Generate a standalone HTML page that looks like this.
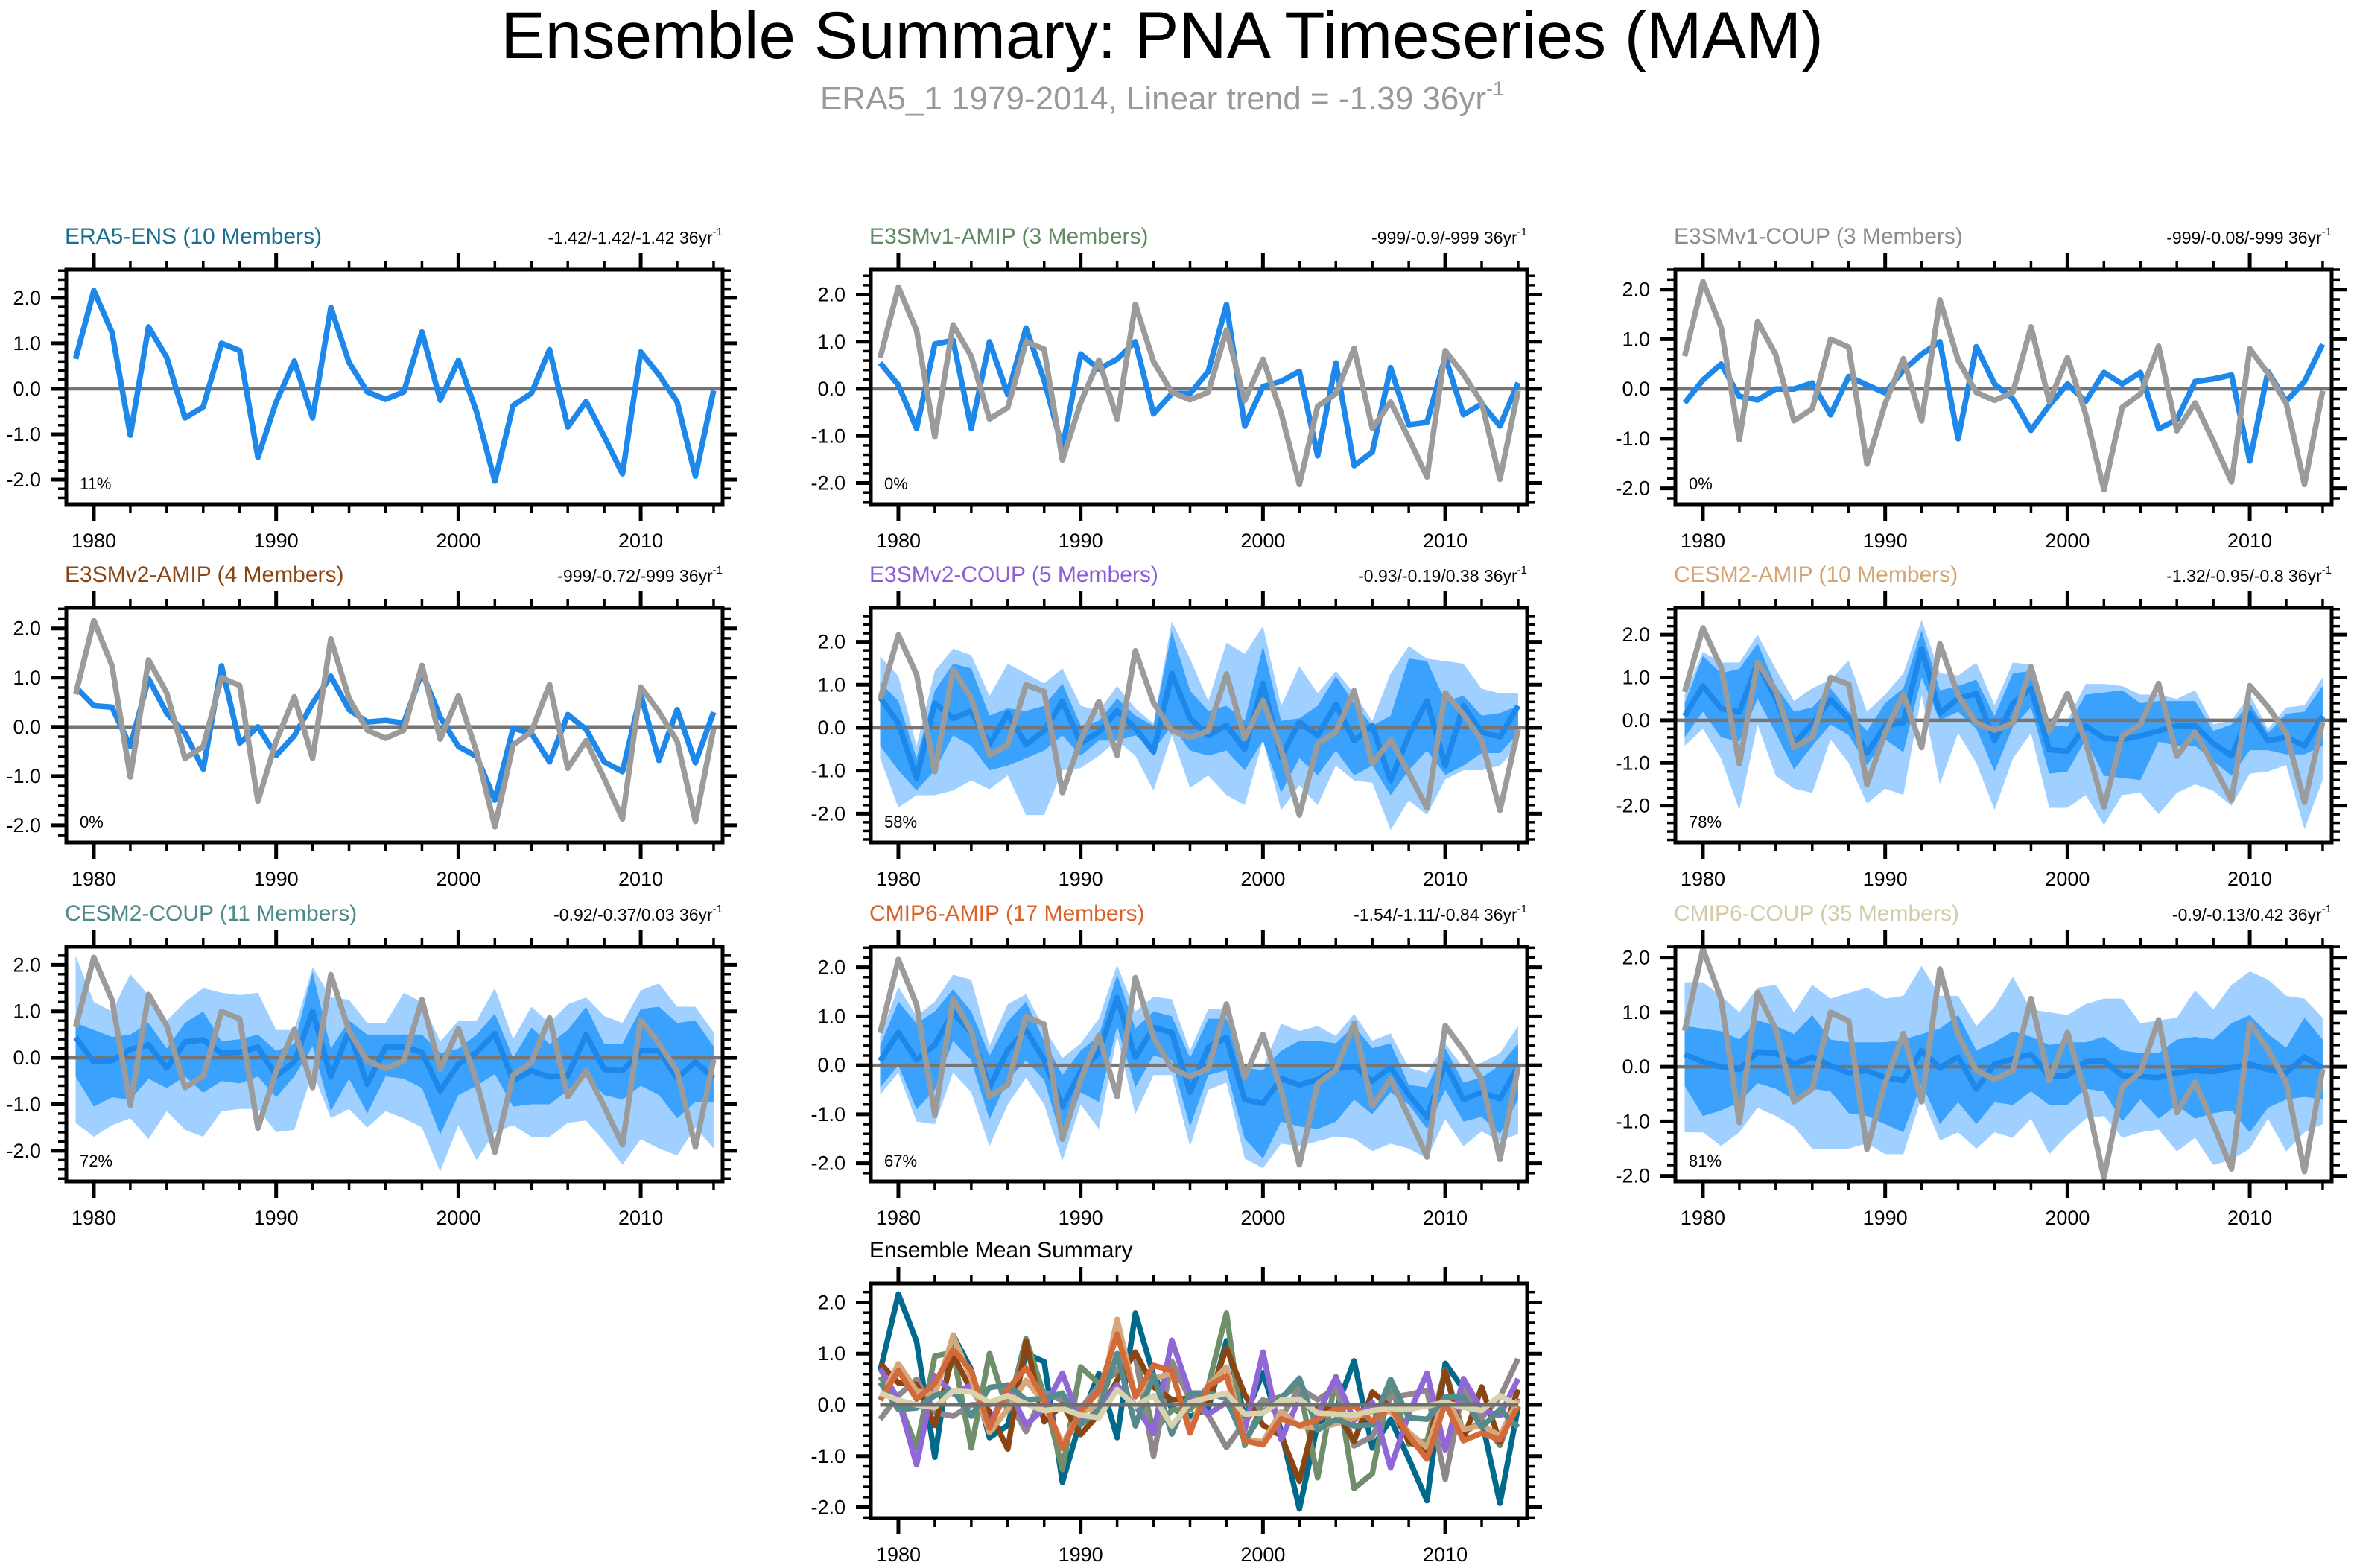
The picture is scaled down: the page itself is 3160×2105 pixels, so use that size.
<!DOCTYPE html>
<html><head><meta charset="utf-8"><title>Ensemble Summary: PNA Timeseries (MAM)</title>
<style>html,body{margin:0;padding:0;background:#fff}svg{display:block;font-family:"Liberation Sans",sans-serif}</style>
</head><body>
<svg id="chart" width="3160" height="2105" viewBox="0 0 3160 2105" xmlns="http://www.w3.org/2000/svg">
<rect width="3160" height="2105" fill="#fff"/>
<text x="1560" y="78" font-size="89" text-anchor="middle" fill="#000">Ensemble Summary: PNA Timeseries (MAM)</text>
<text x="1560" y="147" font-size="44" text-anchor="middle" fill="#999">ERA5_1 1979-2014, Linear trend = -1.39 36yr<tspan font-size="27" dy="-19">-1</tspan></text>
</svg>
<script>
const years = [1979,1980,1981,1982,1983,1984,1985,1986,1987,1988,1989,1990,1991,1992,1993,1994,1995,1996,1997,1998,1999,2000,2001,2002,2003,2004,2005,2006,2007,2008,2009,2010,2011,2012,2013,2014];
const xTickLabels = [1980,1990,2000,2010];
const yTickLabels = ["2.0","1.0","0.0","-1.0","-2.0"];
const yTickValues = [2,1,0,-1,-2];

const obsERA5 = [0.66,2.16,1.24,-1.02,1.36,0.69,-0.64,-0.40,1.0,0.84,-1.51,-0.29,0.61,-0.64,1.79,0.58,-0.07,-0.23,-0.07,1.25,-0.25,0.63,-0.51,-2.03,-0.37,-0.1,0.86,-0.84,-0.28,-1.05,-1.87,0.81,0.31,-0.29,-1.92,-0.04];
const meanE3v1A = [0.55,0.08,-0.84,0.95,1.03,-0.84,1.0,-0.12,1.29,0.18,-1.26,0.74,0.42,0.63,1.0,-0.53,-0.1,-0.1,0.37,1.79,-0.79,0.05,0.16,0.37,-1.42,0.55,-1.63,-1.34,0.45,-0.76,-0.71,0.68,-0.55,-0.32,-0.79,0.13];
const meanE3v1C = [-0.28,0.18,0.5,-0.15,-0.22,0.0,0.0,0.12,-0.52,0.25,0.08,-0.08,0.38,0.7,0.95,-1.0,0.85,0.1,-0.2,-0.83,-0.33,0.1,-0.25,0.33,0.1,0.33,-0.8,-0.62,0.15,0.2,0.28,-1.45,0.35,-0.25,0.15,0.9];
const meanE3v2A = [0.81,0.43,0.4,-0.4,0.98,0.28,-0.13,-0.86,1.24,-0.33,0.0,-0.58,-0.18,0.48,1.03,0.35,0.1,0.13,0.08,1.11,0.2,-0.4,-0.6,-1.49,-0.03,-0.13,-0.71,0.25,-0.05,-0.71,-0.91,0.66,-0.68,0.35,-0.73,0.3];

const meanE3v2C = [0.71,0.1,-1.17,0.57,0.22,0.39,-0.39,0.34,-0.39,-0.07,0.62,-0.36,-0.1,0.39,-0.01,-0.56,1.26,0.22,-0.18,0.05,-0.5,1.03,-0.68,0.13,-0.18,0.54,-0.3,0.05,-1.23,-0.18,0.62,-0.88,0.51,-0.1,-0.21,0.51];
const e3v2cOuterHi = [1.66,1.2,-0.42,1.32,1.84,1.69,0.74,1.49,1.26,1.03,1.38,0.51,0.39,0.97,0.45,0.1,2.47,1.61,0.62,1.98,1.72,2.36,0.51,1.43,0.8,1.32,0.8,0.16,1.26,1.9,1.61,1.55,1.49,0.91,0.8,0.8];
const e3v2cInnerHi = [1.06,0.62,-0.71,0.86,1.49,1.38,0.28,0.45,0.39,0.51,1.03,0.05,0.16,0.68,0.28,0.05,2.24,0.86,0.39,0.51,0.16,1.9,0.16,0.22,0.51,1.2,0.57,0.05,0.28,1.61,1.55,0.62,0.74,0.28,0.34,0.51];
const e3v2cInnerLo = [-0.42,-0.99,-1.46,-0.99,-0.18,-0.42,-0.99,-0.88,-0.71,-0.53,-0.18,-0.65,-0.3,-0.3,-0.18,-0.53,0.05,-0.53,-0.65,-0.53,-0.99,-0.3,-1.51,-0.71,-1.11,-0.53,-1.11,-0.88,-1.57,-0.99,-0.53,-1.1,-0.88,-0.59,-0.59,-0.13];
const e3v2cOuterLo = [-0.71,-1.86,-1.57,-1.57,-1.46,-1.23,-1.43,-1.11,-2.03,-2.03,-0.99,-0.94,-0.65,-0.3,-0.65,-1.46,-0.18,-1.4,-1.11,-1.57,-1.8,-0.3,-1.92,-1.34,-1.8,-0.88,-1.23,-1.28,-2.38,-1.69,-2.03,-1.2,-0.99,-0.99,-0.88,-0.42];

const meanC2A = [0.1,0.8,0.27,0.19,1.35,0.51,-0.54,-0.08,0.48,0.04,-0.77,-0.13,-0.05,1.67,0.16,0.51,0.62,-0.48,0.39,0.74,-0.69,-0.72,-0.13,-0.42,-0.45,-0.37,-0.25,-0.13,-0.13,-0.54,-0.83,0.16,-0.48,-0.4,-0.6,0.1];
const c2aOuterHi = [0.6,1.6,1.35,1.35,2.0,1.2,0.45,0.75,0.95,1.4,0.2,0.6,1.1,2.35,1.1,1.05,1.35,0.35,1.35,1.3,-0.05,0.0,0.85,0.85,0.8,0.6,0.6,0.5,0.7,-0.1,0.0,0.6,-0.2,0.3,0.35,1.0];
const c2aInnerHi = [0.4,1.5,1.1,1.2,1.8,0.8,0.2,0.3,0.75,0.2,-0.25,0.4,0.75,2.1,0.7,0.8,0.95,0.1,1.1,1.15,-0.1,-0.15,0.6,0.65,0.7,0.4,0.45,0.45,0.45,-0.25,-0.1,0.4,-0.3,0.15,0.2,0.8];
const c2aInnerLo = [-0.4,0.2,-0.4,-0.5,0.5,-0.3,-1.15,-0.6,-0.1,-0.35,-1.05,-0.45,-0.75,1.0,0.0,0.2,-0.2,-1.2,-0.15,0.3,-1.25,-1.2,-0.45,-1.3,-1.35,-1.4,-0.5,-0.6,-0.6,-0.95,-1.3,-0.7,-0.7,-0.8,-0.8,-0.6];
const c2aOuterLo = [-0.6,-0.2,-0.9,-2.1,-0.1,-1.3,-1.6,-1.7,-0.45,-1.0,-1.95,-1.6,-1.75,0.6,-1.5,-0.3,-1.0,-2.1,-0.9,-0.3,-2.05,-2.05,-1.75,-2.45,-1.75,-1.7,-2.2,-1.7,-1.5,-1.65,-2.0,-1.25,-1.2,-1.05,-2.55,-1.4];

const meanC2C = [0.44,-0.09,-0.06,0.18,0.28,-0.22,0.34,0.39,0.1,0.12,0.23,-0.39,-0.09,1.0,-0.41,0.58,-0.57,0.23,0.23,0.12,-0.71,-0.14,0.12,0.52,-0.49,-0.28,-0.41,-0.39,0.5,-0.25,-0.28,0.15,0.15,-0.44,-0.09,-0.44];
const c2cOuterHi = [2.2,1.2,1.0,1.8,1.35,0.8,1.2,1.5,1.4,1.35,1.4,0.6,0.6,1.95,1.3,1.25,0.75,0.75,1.4,1.2,0.35,0.8,0.8,1.5,0.4,1.1,0.75,1.15,1.3,0.9,0.75,1.45,1.6,1.1,1.1,0.55];
const c2cInnerHi = [0.75,0.6,0.45,0.5,0.75,0.2,0.75,1.0,0.35,0.4,0.5,0.15,0.3,1.85,0.2,0.8,0.5,0.5,0.5,0.5,0.1,0.2,0.5,0.95,0.0,0.65,0.3,0.6,1.1,0.3,0.3,1.05,1.1,0.75,0.8,0.25];
const c2cInnerLo = [-0.4,-1.05,-0.85,-0.9,-0.45,-0.65,-0.4,-0.75,-0.5,-0.55,-0.4,-0.85,-0.4,0.25,-1.15,-0.45,-1.2,-0.4,-0.45,-0.65,-1.65,-0.8,-0.6,-0.35,-1.05,-1.0,-1.0,-0.7,-0.4,-0.8,-0.9,-0.6,-0.8,-1.3,-0.95,-0.95];
const c2cOuterLo = [-1.4,-1.7,-1.45,-1.3,-1.75,-1.15,-1.55,-1.7,-1.15,-1.1,-1.1,-1.6,-1.55,-0.3,-1.3,-1.1,-1.5,-1.15,-1.3,-1.5,-2.45,-1.45,-2.2,-1.6,-1.45,-1.7,-1.7,-1.4,-1.35,-1.8,-2.3,-1.75,-1.95,-2.1,-1.5,-1.95];

const meanC6A = [0.09,0.67,0.11,0.42,1.08,0.67,-0.45,0.31,0.72,0.11,-0.85,-0.12,0.26,1.38,0.16,0.77,0.67,-0.55,0.37,0.57,-0.7,-0.78,-0.27,-0.4,-0.29,-0.07,-0.02,-0.32,-0.04,-0.6,-1.06,0.04,-0.7,-0.55,-0.68,-0.02];
const c6aOuterHi = [0.6,1.6,1.0,1.3,1.85,1.75,0.4,1.25,1.45,0.75,0.15,0.45,0.95,2.05,1.1,1.4,1.35,0.3,1.15,1.15,0.0,-0.05,0.85,0.7,0.8,0.6,1.05,0.5,0.65,-0.05,-0.15,0.45,-0.05,0.05,0.25,0.8];
const c6aInnerHi = [0.4,1.3,0.85,1.1,1.55,1.1,0.2,0.9,1.3,0.5,-0.2,0.3,0.6,1.85,0.75,1.1,1.0,0.15,0.95,0.95,-0.05,-0.1,0.3,0.5,0.5,0.45,0.8,0.35,0.45,-0.4,-0.45,0.35,-0.35,-0.25,0.0,0.45];
const c6aInnerLo = [-0.45,0.0,-0.9,-0.5,0.5,0.1,-1.1,-0.3,0.1,-0.3,-1.55,-0.55,-0.75,0.8,-0.45,0.2,0.1,-1.25,-0.2,-0.1,-1.5,-1.9,-1.15,-1.25,-1.3,-1.15,-0.7,-1.0,-0.55,-0.8,-1.3,-0.5,-1.15,-1.05,-1.4,-0.7];
const c6aOuterLo = [-0.6,-0.15,-1.15,-1.2,-0.15,-0.55,-1.65,-0.8,-0.25,-0.8,-1.95,-0.8,-1.3,0.6,-1.0,-0.2,-0.2,-1.65,-0.5,-0.35,-1.9,-2.1,-1.6,-1.65,-1.55,-1.45,-1.5,-1.75,-1.6,-1.7,-1.9,-1.1,-1.65,-1.35,-1.55,-1.4];

const meanC6C = [0.23,0.09,0.0,-0.05,0.27,0.25,0.05,0.18,0.02,-0.11,-0.07,-0.2,-0.25,0.3,-0.02,0.18,-0.41,0.05,0.14,0.23,-0.18,-0.16,0.09,0.11,-0.16,-0.18,-0.2,-0.11,-0.07,-0.09,-0.02,0.05,-0.05,-0.11,0.18,-0.02];
const c6cOuterHi = [1.55,1.55,1.3,1.0,1.45,1.5,1.0,1.5,1.25,1.35,1.45,1.25,1.3,1.85,1.3,1.3,0.75,1.1,1.65,1.05,1.0,0.95,1.15,1.25,1.25,0.8,0.85,0.9,1.4,1.05,1.5,1.75,1.6,1.3,1.25,0.9];
const c6cInnerHi = [0.75,0.7,0.65,0.5,0.85,0.75,0.6,0.95,0.5,0.45,0.45,0.45,0.5,0.6,0.7,0.95,0.3,0.45,0.65,0.55,0.4,0.45,0.45,0.55,0.3,0.25,0.25,0.5,0.55,0.5,0.8,0.95,0.6,0.35,0.9,0.5];
const c6cInnerLo = [-0.35,-0.9,-0.8,-0.65,-0.3,-0.4,-0.6,-0.4,-0.45,-0.85,-0.9,-1.05,-1.2,-0.3,-1.05,-0.65,-1.05,-0.65,-0.7,-0.45,-0.7,-0.7,-0.4,-0.45,-1.0,-0.6,-0.95,-0.7,-0.95,-0.85,-0.8,-1.2,-0.75,-0.6,-0.55,-0.6];
const c6cOuterLo = [-1.2,-1.2,-1.45,-1.2,-0.75,-0.9,-1.1,-1.5,-1.5,-1.5,-1.4,-1.6,-1.6,-0.55,-1.35,-1.2,-1.5,-1.2,-1.3,-0.95,-1.6,-1.25,-0.95,-0.9,-1.3,-1.2,-1.15,-1.55,-1.3,-1.8,-1.7,-1.5,-0.95,-1.55,-1.2,-1.05];

const NS = "http://www.w3.org/2000/svg";
const svg = document.getElementById('chart');
const colX = [89, 1169, 2249];
const rowY = [362, 816, 1271, 1723];
const BW = 881, BH = 315, YR = 24.47, X0 = 12.5;

function mk(tag, attrs, parent) {
  const e = document.createElementNS(NS, tag);
  for (const k in attrs) e.setAttribute(k, attrs[k]);
  (parent || svg).appendChild(e);
  return e;
}

const panels = [
  {id:'era5-ens', title:'ERA5-ENS (10 Members)', color:'#1a6e8e', right:'-1.42/-1.42/-1.42 36yr', pct:'11%', col:0, row:0, ymin:-2.54, ymax:2.62, mean:obsERA5, obs:false},
  {id:'e3smv1-amip', title:'E3SMv1-AMIP (3 Members)', color:'#5f8a63', right:'-999/-0.9/-999 36yr', pct:'0%', col:1, row:0, ymin:-2.45, ymax:2.53, mean:meanE3v1A, obs:true},
  {id:'e3smv1-coup', title:'E3SMv1-COUP (3 Members)', color:'#8c8c8c', right:'-999/-0.08/-999 36yr', pct:'0%', col:2, row:0, ymin:-2.32, ymax:2.4, mean:meanE3v1C, obs:true},
  {id:'e3smv2-amip', title:'E3SMv2-AMIP (4 Members)', color:'#8b4513', right:'-999/-0.72/-999 36yr', pct:'0%', col:0, row:1, ymin:-2.35, ymax:2.42, mean:meanE3v2A, obs:true},
  {id:'e3smv2-coup', title:'E3SMv2-COUP (5 Members)', color:'#8a5fd6', right:'-0.93/-0.19/0.38 36yr', pct:'58%', col:1, row:1, ymin:-2.67, ymax:2.79, mean:meanE3v2C, obs:true, oh:e3v2cOuterHi, ih:e3v2cInnerHi, il:e3v2cInnerLo, ol:e3v2cOuterLo},
  {id:'cesm2-amip', title:'CESM2-AMIP (10 Members)', color:'#d4a574', right:'-1.32/-0.95/-0.8 36yr', pct:'78%', col:2, row:1, ymin:-2.86, ymax:2.63, mean:meanC2A, obs:true, oh:c2aOuterHi, ih:c2aInnerHi, il:c2aInnerLo, ol:c2aOuterLo},
  {id:'cesm2-coup', title:'CESM2-COUP (11 Members)', color:'#4f8888', right:'-0.92/-0.37/0.03 36yr', pct:'72%', col:0, row:2, ymin:-2.66, ymax:2.39, mean:meanC2C, obs:true, oh:c2cOuterHi, ih:c2cInnerHi, il:c2cInnerLo, ol:c2cOuterLo},
  {id:'cmip6-amip', title:'CMIP6-AMIP (17 Members)', color:'#d9622b', right:'-1.54/-1.11/-0.84 36yr', pct:'67%', col:1, row:2, ymin:-2.37, ymax:2.42, mean:meanC6A, obs:true, oh:c6aOuterHi, ih:c6aInnerHi, il:c6aInnerLo, ol:c6aOuterLo},
  {id:'cmip6-coup', title:'CMIP6-COUP (35 Members)', color:'#d2cca8', right:'-0.9/-0.13/0.42 36yr', pct:'81%', col:2, row:2, ymin:-2.1, ymax:2.2, mean:meanC6C, obs:true, oh:c6cOuterHi, ih:c6cInnerHi, il:c6cInnerLo, ol:c6cOuterLo}
];
const summaryColors = ['#00698c','#6e8f6a','#8e888c','#8b4513','#9067d6','#d4a87a','#558b8b','#d36a3a','#d8d2ae'];

function axes(L, T, ymin, ymax, g) {
  const x = yr => L + X0 + (yr - 1979) * YR;
  const y = v => T + (ymax - v) / (ymax - ymin) * BH;
  for (let yr = 1980; yr <= 2014; yr += 2) {
    const major = yr % 10 === 0;
    const len = major ? 22 : 12;
    const t1 = mk('line', {x1:x(yr), x2:x(yr), y1:T+BH, y2:T+BH+len, stroke:'#000', 'stroke-width':major?5:3.5}, g);
    
    
    const t2 = mk('line', {x1:x(yr), x2:x(yr), y1:T, y2:T-len, stroke:'#000', 'stroke-width':major?5:3.5}, g);
    
    
  }
  xTickLabels.forEach(yr => {
    const t = mk('text', {x:x(yr), y:T+BH+58, 'font-size':27, 'text-anchor':'middle', fill:'#000'}, g);
    t.textContent = yr;
    
    
  });
  const start = Math.ceil(ymin * 5), end = Math.floor(ymax * 5);
  for (let k = start; k <= end; k++) {
    const v = k / 5, major = (k % 5 === 0);
    const len = major ? 20 : 11;
    const a = mk('line', {x1:L, x2:L-len, y1:y(v), y2:y(v), stroke:'#000', 'stroke-width':major?5:3.5}, g);
    
    
    const b = mk('line', {x1:L+BW, x2:L+BW+len, y1:y(v), y2:y(v), stroke:'#000', 'stroke-width':major?5:3.5}, g);
    
    
  }
  yTickValues.forEach((v, i) => {
    if (v < ymin || v > ymax) return;
    const t = mk('text', {x:L-34, y:y(v)+9, 'font-size':27, 'text-anchor':'end', fill:'#000'}, g);
    t.textContent = yTickLabels[i];
    
    
  });
  return {x, y};
}

function linePath(vals, x, y) {
  return vals.map((v, i) => (i ? 'L' : 'M') + x(years[i]).toFixed(1) + ',' + y(v).toFixed(1)).join('');
}
function bandPath(hi, lo, x, y) {
  let d = hi.map((v, i) => (i ? 'L' : 'M') + x(years[i]).toFixed(1) + ',' + y(v).toFixed(1)).join('');
  for (let i = lo.length - 1; i >= 0; i--) d += 'L' + x(years[i]).toFixed(1) + ',' + y(lo[i]).toFixed(1);
  return d + 'Z';
}

panels.forEach((p, idx) => {
  const L = colX[p.col], T = rowY[p.row];
  const g = mk('g', {});
  
  
  const cp = mk('clipPath', {id:'clip' + idx}, g);
  mk('rect', {x:L, y:T, width:BW, height:BH}, cp);
  const {x, y} = axes(L, T, p.ymin, p.ymax, g);
  const inner = mk('g', {'clip-path':'url(#clip' + idx + ')'}, g);
  if (p.oh) {
    const ob = mk('path', {d:bandPath(p.oh, p.ol, x, y), fill:'#9fd0ff'}, inner);
    
    
    const ib = mk('path', {d:bandPath(p.ih, p.il, x, y), fill:'#3aa1fd'}, inner);
    
    
  }
  const z = mk('line', {x1:L, x2:L+BW, y1:y(0), y2:y(0), stroke:'#757575', 'stroke-width':4.5}, inner);
  
  
  const m = mk('path', {d:linePath(p.mean, x, y), fill:'none', stroke:'#1e88ea', 'stroke-width':7.5, 'stroke-linejoin':'round'}, inner);
  
  
  if (p.obs) {
    const o = mk('path', {d:linePath(obsERA5, x, y), fill:'none', stroke:'#9b9b9b', 'stroke-width':7.5, 'stroke-linejoin':'round'}, inner);
    
    
  }
  const box = mk('rect', {x:L, y:T, width:BW, height:BH, fill:'none', stroke:'#000', 'stroke-width':5}, g);
  
  
  const tl = mk('text', {x:L-2, y:T-35, 'font-size':30, fill:p.color}, g);
  tl.textContent = p.title;
  
  
  const tr = mk('text', {x:L+BW, y:T-35, 'font-size':23, 'text-anchor':'end', fill:'#000'}, g);
  tr.textContent = p.right;
  const sup = mk('tspan', {'font-size':15, dy:-11}, tr);
  sup.textContent = '-1';
  
  
  const pc = mk('text', {x:L+18, y:T+BH-20, 'font-size':22, fill:'#000'}, g);
  pc.textContent = p.pct;
  
  
});

(function(){
  const L = colX[1], T = rowY[3], ymin = -2.21, ymax = 2.37;
  const g = mk('g', {});
  
  
  const cp = mk('clipPath', {id:'clipS'}, g);
  mk('rect', {x:L, y:T, width:BW, height:BH}, cp);
  const {x, y} = axes(L, T, ymin, ymax, g);
  const inner = mk('g', {'clip-path':'url(#clipS)'}, g);
  panels.forEach((p, i) => {
    const l = mk('path', {d:linePath(p.mean, x, y), fill:'none', stroke:summaryColors[i], 'stroke-width':7.5, 'stroke-linejoin':'round'}, inner);
    
    
  });
  const z = mk('line', {x1:L+X0, x2:L+X0+35*YR, y1:y(0), y2:y(0), stroke:'#6f6f6f', 'stroke-width':5}, inner);
  
  
  const box = mk('rect', {x:L, y:T, width:BW, height:BH, fill:'none', stroke:'#000', 'stroke-width':5}, g);
  
  
  const tl = mk('text', {x:L-2, y:T-35, 'font-size':30, fill:'#000'}, g);
  tl.textContent = 'Ensemble Mean Summary';
  
  
})();
</script>
</body></html>
